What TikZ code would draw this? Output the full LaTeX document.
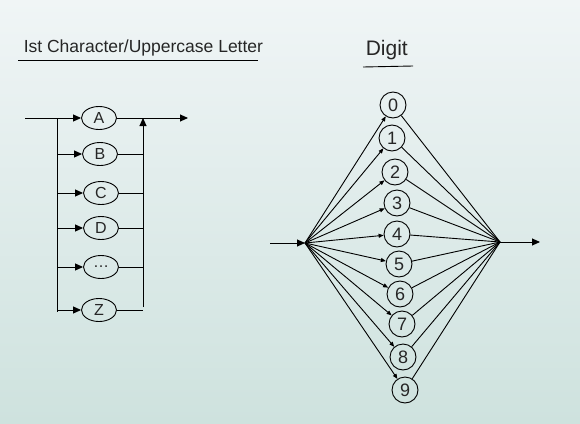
\documentclass[tikz,border=0pt]{standalone}
\usepackage{fontspec}
\setmainfont{Liberation Sans}
\usepackage{tikz}
\usetikzlibrary{positioning, arrows.meta, shapes.geometric, calc}

\begin{document}
\begin{tikzpicture}[
    x=1pt, y=-1pt,
    line width=0.9pt,
    every node/.style={text=black!85},
    title/.style={font=\fontsize{17.5}{20}\selectfont, anchor=base west},
    letter/.style={ellipse, draw, minimum width=35pt, minimum height=23pt, inner sep=0pt, font=\fontsize{16}{18}\selectfont},
    digit/.style={circle, draw, minimum size=26pt, inner sep=0pt, font=\fontsize{18}{20}\selectfont},
    arr/.style={-{Triangle[length=8pt, width=7pt]}},
    smallarr/.style={-{Triangle[length=5pt, width=4pt]}},
]
    % --- Paper background, fixes the page size ---
    \shade[top color={rgb,255:red,240;green,245;blue,246}, bottom color={rgb,255:red,206;green,226;blue,222}]
        (0,0) rectangle (580,423);
    \useasboundingbox (0,0) rectangle (580,423);

    % --- Column x-coordinates of the letter diagram ---
    \def\xIn{25}     % entry line start
    \def\xSplit{57}  % left branch line
    \def\xJoin{143}  % right collector line
    \def\xOut{188}   % exit arrow tip

    % --- Titles ---
    \node[title] (ttlL) at (20,52) {Ist Character/Uppercase Letter};
    \draw (18,60) -- (258,60);
    \node[title, font=\fontsize{21}{24}\selectfont] (ttlR) at (362,55) {Digit};
    \draw (363,67) -- (413,66);

    % --- Letter nodes ---
    \node[letter] (A)    at (99,118) {A};
    \node[letter] (B)    at (100,154) {B};
    \node[letter] (C)    at (101,193) {C};
    \node[letter] (D)    at (101,228) {D};
    \node[letter] (dots) at (101,267) {\dots};
    \node[letter] (Z)    at (99,310) {Z};

    % --- Letter wiring ---
    \coordinate (in)    at (\xIn,118);
    \coordinate (split) at (\xSplit,118);
    \coordinate (splitZ) at (\xSplit,312);
    \coordinate (join)  at (\xJoin,118);
    \coordinate (joinZ) at (\xJoin,307);
    \coordinate (out)   at (\xOut,118);
    \draw[arr] (in) -- (A.west);
    \draw (split) -- (splitZ);
    \foreach \n in {B, C, D, dots, Z}
        \draw[arr] (split |- \n) -- (\n.west);
    \foreach \n in {B, C, D, dots, Z}
        \draw (\n.east) -- (join |- \n);
    \draw[arr] (joinZ) -- (join);
    \draw[arr] (A.east) -- (out);

    % --- Digit nodes ---
    \foreach \d/\x/\y in {0/393/105, 1/392/138, 2/395/172, 3/397/203, 4/397/234,
                          5/399/264, 6/400/294, 7/402/324, 8/403/357, 9/405/390}
        \node[digit] (d\d) at (\x,\y) {\d};

    % --- Digit wiring ---
    \coordinate (din)  at (270,243);
    \coordinate (hubL) at (305,243);
    \coordinate (hubR) at (500,242);
    \coordinate (dout) at (540,242);
    \draw[arr] (din) -- (hubL);
    \foreach \d in {0,...,9} {
        \draw[smallarr] (hubL) -- (d\d);
        \draw (d\d) -- (hubR);
    }
    \draw[arr] (hubR) -- (dout);
\end{tikzpicture}
\end{document}
